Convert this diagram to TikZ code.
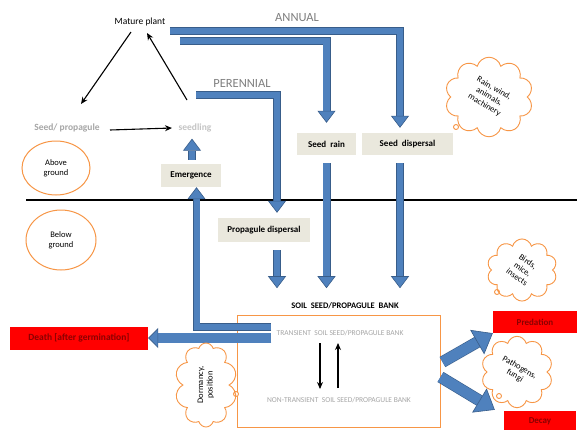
\documentclass[tikz,border=0pt]{standalone}
\usepackage{fontspec}
\setmainfont{Carlito}
\setsansfont{Carlito}
\usepackage{xcolor}
\definecolor{arrowblue}{HTML}{4F81BD}
\definecolor{arrowedge}{HTML}{385D8A}
\definecolor{labelbox}{HTML}{EAE8DD}
\definecolor{cloudline}{HTML}{F79646}
\definecolor{deathred}{HTML}{FF0000}
\definecolor{deathtext}{HTML}{8B0000}
\definecolor{annualgray}{HTML}{7F7F7F}
\definecolor{stagegray}{HTML}{A6A6A6}
\definecolor{palegray}{HTML}{C4C4C4}
\usepackage{tikz}
\usetikzlibrary{arrows.meta, shapes.geometric, shapes.symbols, shapes.callouts, calc}

\begin{document}
\begin{tikzpicture}[x=1pt, y=-1pt, >=Stealth, font=\sffamily\fontsize{8.5}{10}\selectfont,
  blockarrow/.style={draw=arrowedge, line width=0.6pt, double=arrowblue,
    double distance=6.8pt, line join=miter,
    -{Triangle[width=18pt, length=12pt, fill=arrowblue, line width=0.6pt]}},
  bigarrow/.style={blockarrow, double distance=10.5pt,
    -{Triangle[width=28pt, length=18pt, fill=arrowblue, line width=0.6pt]}},
  cyclearrow/.style={-{Stealth[length=7pt, width=6pt]}, line width=1.1pt},
  stagebox/.style={fill=labelbox, inner sep=0pt, font=\sffamily\bfseries\fontsize{9}{10}\selectfont},
  redbox/.style={fill=deathred, text=deathtext, inner sep=0pt, font=\sffamily\bfseries\fontsize{9.5}{10}\selectfont},
  zone/.style={ellipse, draw=cloudline, line width=1pt, align=center, inner sep=0pt},
  thought/.style={cloud callout, cloud puffs=10, aspect=1, draw=cloudline, line width=0.9pt,
    fill=white, inner sep=0pt, callout pointer segments=1,
    callout pointer start size=5pt, callout pointer end size=5pt, font=\sffamily\fontsize{8.5}{9.5}\selectfont}]
  \path[use as bounding box, fill=white] (0,0) rectangle (580,429);

  % life cycle above ground
  \node (mature) at (140,22) {\fontsize{9.5}{10}\selectfont Mature plant};
  \node[text=stagegray, font=\sffamily\bfseries\fontsize{9.5}{10}\selectfont] (seedprop) at (67,128) {Seed/ propagule};
  \node[text=palegray, font=\sffamily\bfseries\fontsize{9.5}{10}\selectfont] (seedling) at (195,128) {seedling};
  \draw[cyclearrow] ($(mature)+(-9,10)$) -- ($(seedprop)+(14,-24)$);
  \draw[cyclearrow] ($(seedling)+(-8,-28)$) -- ($(mature)+(7,11)$);
  \draw[cyclearrow] ($(seedprop)+(43,2)$) -- ($(seedling)+(-23,0)$);

  \node[zone, minimum width=68pt, minimum height=54pt] (above) at (56,168) {Above\\ground};
  \node[zone, minimum width=70pt, minimum height=60pt] (below) at (61,240) {Below\\ground};
  \draw[line width=1.8pt] (26,200) -- (577,200);

  \node[text=annualgray, font=\sffamily\fontsize{12.5}{13}\selectfont] (annual) at (297,18) {ANNUAL};
  \node[text=annualgray, font=\sffamily\fontsize{12.5}{13}\selectfont] (perennial) at (242,83) {PERENNIAL};

  \node[stagebox, minimum width=60pt, minimum height=23pt] (emerg) at (191,175.5) {Emergence};
  \node[stagebox, minimum width=59pt, minimum height=22pt] (seedrain) at (326.5,144) {Seed\ \ rain};
  \node[stagebox, minimum width=91pt, minimum height=22pt] (seeddisp) at (407.5,144) {Seed\ \ dispersal};
  \node[stagebox, minimum width=92pt, minimum height=24pt] (propdisp) at (264,230) {Propagule dispersal};

  % seed bank
  \node[font=\sffamily\bfseries\fontsize{8.5}{9}\selectfont] (banktitle) at (345,306) {SOIL\ \ SEED/PROPAGULE\ \ BANK};
  \node[draw=cloudline, line width=1pt, minimum width=203pt, minimum height=112pt] (bank) at (338.5,371) {};
  \node[text=stagegray, font=\sffamily\fontsize{7.5}{8}\selectfont] (transient) at (340,333) {TRANSIENT\ \ SOIL SEED/PROPAGULE BANK};
  \node[text=stagegray, font=\sffamily\fontsize{7.5}{8}\selectfont] (nontransient) at (339,400) {NON-TRANSIENT\ \ SOIL SEED/PROPAGULE BANK};
  \draw[cyclearrow] ($(transient)+(-20,10)$) -- ($(nontransient)+(-19,-11)$);
  \draw[cyclearrow] ($(nontransient)+(-1,-12)$) -- ($(transient)+(-2,10)$);

  \node[redbox, minimum width=138pt, minimum height=23pt] (death) at (79,338) {Death [after germination]};
  \node[redbox, minimum width=84pt, minimum height=22pt, font=\sffamily\bfseries\fontsize{9}{10}\selectfont] (predation) at (535,322) {Predation};
  \node[redbox, minimum width=72pt, minimum height=20pt, font=\sffamily\bfseries\fontsize{9}{10}\selectfont] (decay) at (540,421) {Decay};

  % blue flows
  \draw[blockarrow] ($(mature.east)+(1,9)$) -| ($(seeddisp.north)+(-7.5,-5)$);
  \draw[blockarrow] ($(mature.east)+(11,19)$) -| ($(seedrain.north)+(0,-10)$);
  \draw[blockarrow] ($(perennial)+(-46,12)$) -| ($(propdisp.north)+(13,-5)$);
  \draw[blockarrow] ($(propdisp.south)+(13,8)$) -- ++(0,38);
  \draw[blockarrow] ($(seedrain.south)+(0,8)$) -- ++(0,125);
  \draw[blockarrow] ($(seeddisp.south)+(-7.5,8)$) -- ++(0,125);
  \draw[blockarrow] ($(emerg.north)+(1,-4)$) -- ($(seedling.south)+(-3,3)$);
  \draw[blockarrow, double distance=6pt] ($(transient.west)+(-2,-6)$) -| ($(emerg.south)+(5.5,0)$);
  \draw[blockarrow, double distance=9.4pt, -{Triangle[width=20pt, length=10pt, fill=arrowblue, line width=0.6pt]}]
    ($(transient.west)+(-2,5)$) -- (death.east);
  \draw[bigarrow] ($(bank.east)+(2,-9)$) -- (predation.south west);
  \draw[bigarrow] ($(bank.east)+(0,6)$) -- ($(decay.north west)+(-9,-1)$);

  % thought clouds
  \node[thought, minimum width=88pt, minimum height=69pt, callout absolute pointer={(456,127)}] (raincloud) at (489,97)
    {\rotatebox{-30}{\begin{tabular}{@{}c@{}}Rain, wind,\\animals,\\machinery\end{tabular}}};
  \node[thought, minimum width=70pt, minimum height=44pt, callout absolute pointer={(497,292)}] (birdcloud) at (522,270)
    {\rotatebox{-35}{\begin{tabular}{@{}c@{}}Birds,\\mice,\\insects\end{tabular}}};
  \node[thought, minimum width=68pt, minimum height=50pt, callout absolute pointer={(499,396)}] (fungicloud) at (517,372)
    {\rotatebox{-30}{\begin{tabular}{@{}c@{}}Pathogens,\\fungi\end{tabular}}};
  \node[thought, minimum width=54pt, minimum height=84pt, callout absolute pointer={(236,394)}] (dormcloud) at (206,385)
    {\rotatebox{90}{\begin{tabular}{@{}c@{}}Dormancy,\\position\end{tabular}}};
\end{tikzpicture}
\end{document}
